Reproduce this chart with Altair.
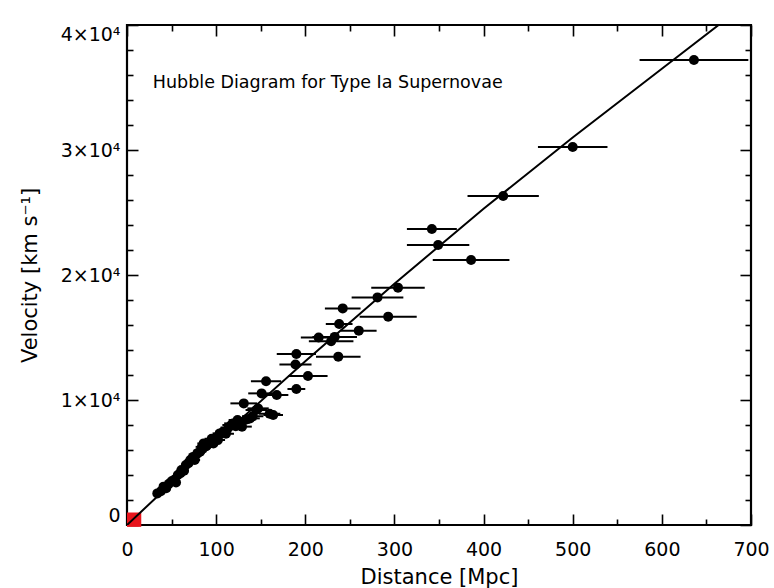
import altair as alt
import pandas as pd

# ---- data ----
dist = [34, 38, 41, 44, 47, 50, 53, 55, 57, 60, 61, 64, 66, 69, 71, 74, 76, 79, 82, 84,
        86, 89, 92, 95, 97, 100, 102, 104, 108, 111, 114, 117, 119, 122, 124, 127, 129, 131,
        134, 138, 141, 145, 147, 151, 156, 160, 164, 168, 190, 189, 190, 203, 215, 229, 233,
        237, 238, 242, 260, 281, 293, 304, 342, 349, 386, 422, 500, 636]
vel = [2530, 2700, 3070, 2950, 3300, 3500, 3620, 3400, 4000, 4150, 4400, 4350, 4800, 4950,
       5200, 5450, 5200, 5750, 5870, 6250, 6530, 6300, 6500, 6900, 6530, 7000, 6800, 7330,
       7470, 7300, 7800, 8000, 8130, 7900, 8400, 8200, 7870, 9730, 8450, 8530, 8700, 9200,
       9330, 10530, 11500, 8900, 8800, 10400, 10880, 12840, 13680, 11920, 15000, 14700, 15050,
       13470, 16080, 17330, 15550, 18210, 16670, 18990, 23680, 22400, 21200, 26320, 30240, 37200]
err = [3, 3, 3, 4, 4, 4, 4, 4, 5, 5, 5, 5, 5, 6, 6, 6, 6, 6, 7, 7,
       7, 7, 7, 8, 8, 8, 8, 8, 9, 9, 9, 10, 10, 10, 10, 11, 11, 15,
       11, 11, 12, 12, 12, 15, 17, 12, 11, 13, 10, 18, 22, 22, 20, 25, 25,
       25, 15, 20, 20, 29, 32, 30, 28, 35, 43, 40, 39, 61]

# fitted curve
fit_d = [0, 100, 200, 300, 400, 500, 600, 700]
fit_v = [0, 6700, 13100, 19300, 25300, 31000, 36500, 42000]

# red box at the origin
box_d = [0]
box_d2 = [16]
box_v = [-150]
box_v2 = [1000]

x_major = [0, 100, 200, 300, 400, 500, 600, 700]
x_minor = [50, 150, 250, 350, 450, 550, 650]
y_major = [0, 10000, 20000, 30000, 40000]
y_minor = [2000, 4000, 6000, 8000, 12000, 14000, 16000, 18000,
           22000, 24000, 26000, 28000, 32000, 34000, 36000, 38000]

note_text = ["Hubble Diagram for Type Ia Supernovae"]
note_d = [29]
note_v = [35400]

FONT = "DejaVu Sans"

df = pd.DataFrame({"d": dist, "v": vel, "e": err})
df["lo"] = df["d"] - df["e"]
df["hi"] = df["d"] + df["e"]
fit = pd.DataFrame({"d": fit_d, "v": fit_v})
box = pd.DataFrame({"d": box_d, "d2": box_d2, "v": box_v, "v2": box_v2})
note = pd.DataFrame({"d": note_d, "v": note_v, "t": note_text})

xs = alt.Scale(domain=[0, 700], nice=False, zero=False)
ys = alt.Scale(domain=[0, 40000], nice=False, zero=False)

box_layer = alt.Chart(box).mark_rect(color="#e8141c").encode(
    x=alt.X("d:Q", scale=xs, axis=None), x2="d2:Q",
    y=alt.Y("v:Q", scale=ys, axis=None), y2="v2:Q")

bars = alt.Chart(df).mark_rule(color="black", strokeWidth=2).encode(
    x=alt.X("lo:Q", scale=xs, axis=None), x2="hi:Q",
    y=alt.Y("v:Q", scale=ys, axis=None))

line = alt.Chart(fit).mark_line(color="black", strokeWidth=2, clip=True).encode(
    x=alt.X("d:Q", scale=xs, axis=None),
    y=alt.Y("v:Q", scale=ys, axis=None))

points = alt.Chart(df).mark_circle(color="black", opacity=1, size=100).encode(
    x=alt.X("d:Q", scale=xs, axis=alt.Axis(
        orient="bottom", values=x_major, ticks=False, tickSize=0, domain=False, grid=False,
        labelFontSize=19, labelPadding=15, labelColor="black", labelFont=FONT,
        labelFlush=False,
        title="Distance [Mpc]", titleFontSize=21, titleFont=FONT, titleFontWeight="normal",
        titleColor="black", titleX=312, titleY=52, titleBaseline="middle")),
    y=alt.Y("v:Q", scale=ys, axis=alt.Axis(
        orient="left", values=y_major, ticks=False, tickSize=0, domain=False, grid=False,
        labelExpr="datum.value == 0 ? '0' : format(datum.value / 10000, 'd') + '×10⁴'",
        labelFontSize=19, labelPadding=7, labelColor="black", labelFont=FONT,
        labelFlush=True,
        title="Velocity [km s⁻¹]", titleFontSize=21, titleFont=FONT, titleFontWeight="normal",
        titleColor="black", titleX=-97, titleY=250, titleBaseline="middle")))

text = alt.Chart(note).mark_text(align="left", baseline="middle", fontSize=17.5,
                                 font=FONT, color="black").encode(
    x=alt.X("d:Q", scale=xs, axis=None),
    y=alt.Y("v:Q", scale=ys, axis=None),
    text="t:N")


def tick_layer(ox, oy, vx, vy, size):
    return alt.Chart(df).mark_point(opacity=0).encode(
        x=alt.X("d:Q", scale=xs, axis=alt.Axis(
            orient=ox, values=vx, labels=False, domain=False, grid=False, title=None,
            ticks=True, tickSize=size, offset=-size, tickColor="black", tickWidth=1.6)),
        y=alt.Y("v:Q", scale=ys, axis=alt.Axis(
            orient=oy, values=vy, labels=False, domain=False, grid=False, title=None,
            ticks=True, tickSize=size, offset=-size, tickColor="black", tickWidth=1.6)))


t1 = tick_layer("bottom", "left", x_major, y_major, 11)
t2 = tick_layer("bottom", "left", x_minor, y_minor, 6)
t3 = tick_layer("top", "right", x_major, y_major, 11)
t4 = tick_layer("top", "right", x_minor, y_minor, 6)

chart = alt.layer(box_layer, bars, line, points, text, t1, t2, t3, t4).resolve_axis(
    x="independent", y="independent"
).properties(
    width=624, height=500,
    autosize=alt.AutoSizeParams(type="none"),
    padding={"left": 127, "top": 25, "right": 23, "bottom": 63},
    background="white",
).configure_view(stroke="black", strokeWidth=2.2)

chart.save("out.html", embed_options={"renderer": "svg", "actions": False})
